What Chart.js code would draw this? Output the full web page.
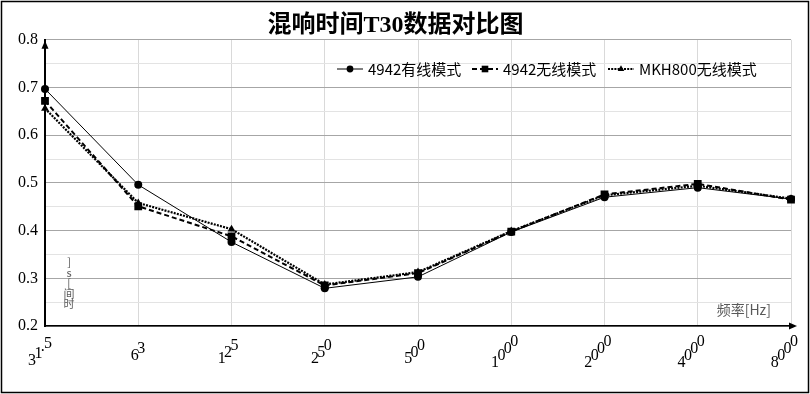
<!DOCTYPE html>
<html>
<head>
<meta charset="utf-8">
<script src="https://cdn.jsdelivr.net/npm/chart.js"></script>
<style>
  body { margin: 0; background: #fff; }
  canvas { display: block; }
</style>
</head>
<body>
<canvas id="t30Chart" width="810" height="394"></canvas>
<script>
// frequency bands and T30 values (s)
const freqLabels = ['31.5', '63', '125', '250', '500', '1000', '2000', '4000', '8000'];
const seriesNames = ['4942有线模式', '4942无线模式', 'MKH800无线模式'];
const wiredValues = [0.697, 0.496, 0.376, 0.279, 0.303, 0.397, 0.470, 0.490, 0.466];
const wirelessValues = [0.672, 0.451, 0.388, 0.285, 0.311, 0.398, 0.476, 0.498, 0.465];
const mkhValues = [0.656, 0.458, 0.403, 0.287, 0.313, 0.399, 0.474, 0.494, 0.467];
const yTickValues = [0.2, 0.3, 0.4, 0.5, 0.6, 0.7, 0.8];

const serif = '"Liberation Serif", "Times New Roman", serif';
const sans = '"Noto Sans CJK SC", "Noto Sans", sans-serif';

function isMajor(v) {
    return yTickValues.some(t => Math.abs(t - v) < 1e-6);
}

// white background, outer frame, axis arrows, axis names
const frameAndArrows = {
    id: 'frameAndArrows',
    beforeDraw(chart) {
        const c = chart.ctx;
        c.save();
        c.fillStyle = '#fff';
        c.fillRect(0, 0, chart.width, chart.height);
        c.restore();
    },
    afterDraw(chart) {
        const c = chart.ctx;
        const a = chart.chartArea;
        c.save();
        c.strokeStyle = '#000';
        c.lineWidth = 1.5;
        c.strokeRect(1.5, 1.5, chart.width - 3, chart.height - 3);

        c.fillStyle = '#000';
        c.beginPath();
        c.moveTo(a.left, a.top + 1);
        c.lineTo(a.left - 3.5, a.top + 9);
        c.lineTo(a.left + 3.5, a.top + 9);
        c.closePath();
        c.fill();

        c.lineWidth = 1.5;
        c.beginPath();
        c.moveTo(a.right, a.bottom);
        c.lineTo(a.right + 3, a.bottom);
        c.stroke();
        c.beginPath();
        c.moveTo(a.right + 6, a.bottom);
        c.lineTo(a.right - 2, a.bottom - 3.5);
        c.lineTo(a.right - 2, a.bottom + 3.5);
        c.closePath();
        c.fill();

        // x axis name
        c.fillStyle = '#595959';
        c.font = '14px ' + sans;
        c.textAlign = 'right';
        c.textBaseline = 'middle';
        c.fillText('频率[Hz]', a.right - 20, a.bottom - 16);

        // y axis name (squeezed vertical text as in the source)
        c.font = '11px ' + sans;
        c.textAlign = 'center';
        const yName = [']', 's', '[', '间', '时'];
        yName.forEach((ch, i) => c.fillText(ch, 69, 262 + i * 10.5));
        c.restore();
    }
};

// staircase x tick labels: upright characters climbing towards the tick
const stairLabels = {
    id: 'stairLabels',
    afterDraw(chart) {
        const c = chart.ctx;
        const xs = chart.scales.x;
        c.save();
        c.font = '16px ' + serif;
        c.fillStyle = '#000';
        c.textBaseline = 'alphabetic';
        c.textAlign = 'left';
        freqLabels.forEach((lab, i) => {
            const chars = lab.split('');
            let px = 0, py = 0;
            const pos = chars.map(ch => {
                const w = c.measureText(ch).width;
                const p = { ch: ch, x: px, y: py, w: w };
                px += w * 0.8;
                py -= w * 0.87;
                return p;
            });
            const last = pos[pos.length - 1];
            const right = last.x + last.w;
            const top = last.y - 11;
            const bottom = pos[0].y;
            const dx = xs.getPixelForTick(i) + 7 - right;
            const dy = 351 - (top + bottom) / 2;
            pos.forEach(p => c.fillText(p.ch, p.x + dx, p.y + dy));
        });
        c.restore();
    }
};

// legend inside the plot area
const innerLegend = {
    id: 'innerLegend',
    afterDraw(chart) {
        const c = chart.ctx;
        const y = 69;
        const starts = [337, 472, 608];
        c.save();
        c.font = '15px ' + sans;
        c.textBaseline = 'middle';
        c.textAlign = 'left';
        chart.data.datasets.forEach((ds, i) => {
            const x0 = starts[i];
            c.strokeStyle = '#000';
            c.lineWidth = ds.borderWidth;
            c.setLineDash(ds.borderDash || []);
            c.beginPath();
            c.moveTo(x0, y);
            c.lineTo(x0 + 26, y);
            c.stroke();
            c.setLineDash([]);
            Chart.helpers.drawPoint(c, {
                pointStyle: ds.pointStyle,
                radius: ds.pointRadius * 0.85,
                borderWidth: 0
            }, x0 + 13, y);
            c.fillStyle = '#000';
            c.fillText(ds.label, x0 + 31, y);
        });
        c.restore();
    }
};

const ctx = document.getElementById('t30Chart').getContext('2d');
const chart = new Chart(ctx, {
    type: 'line',
    data: {
        labels: freqLabels,
        datasets: [
            {
                label: seriesNames[0],
                data: wiredValues,
                borderColor: '#000',
                backgroundColor: '#000',
                borderWidth: 1,
                pointStyle: 'circle',
                pointRadius: 4,
                pointBorderWidth: 0
            },
            {
                label: seriesNames[1],
                data: wirelessValues,
                borderColor: '#000',
                backgroundColor: '#000',
                borderWidth: 2,
                borderDash: [5, 3],
                pointStyle: 'rect',
                pointRadius: 5.5,
                pointBorderWidth: 0
            },
            {
                label: seriesNames[2],
                data: mkhValues,
                borderColor: '#000',
                backgroundColor: '#000',
                borderWidth: 2.2,
                borderDash: [2, 1.2],
                pointStyle: 'triangle',
                pointRadius: 4.5,
                pointBorderWidth: 0
            }
        ]
    },
    options: {
        responsive: false,
        animation: false,
        layout: { padding: { left: 0, right: 19, top: 0, bottom: 0 } },
        plugins: {
            legend: { display: false },
            tooltip: { enabled: false },
            title: {
                display: true,
                text: '混响时间T30数据对比图',
                color: '#000',
                font: { family: serif + ', "Noto Sans CJK SC"', size: 24, weight: 'bold' },
                padding: { top: 11, bottom: 0 }
            }
        },
        scales: {
            x: {
                offset: false,
                grid: { color: '#d9d9d9', lineWidth: 1, drawTicks: false },
                border: { color: '#000', width: 1.5 },
                ticks: { display: false },
                afterFit: s => { s.height = 68; }
            },
            y: {
                min: 0.2,
                max: 0.8,
                grid: {
                    drawTicks: false,
                    color: c => (c.tick && isMajor(c.tick.value)) ? '#a6a6a6' : '#e3e3e3',
                    lineWidth: 1
                },
                border: { color: '#000', width: 2 },
                ticks: {
                    stepSize: 0.05,
                    padding: 7,
                    color: '#000',
                    font: { family: serif, size: 16 },
                    callback: v => isMajor(v) ? v.toFixed(1) : ''
                },
                afterFit: s => { s.width = 45; }
            }
        }
    },
    plugins: [frameAndArrows, stairLabels, innerLegend]
});
</script>
</body>
</html>
